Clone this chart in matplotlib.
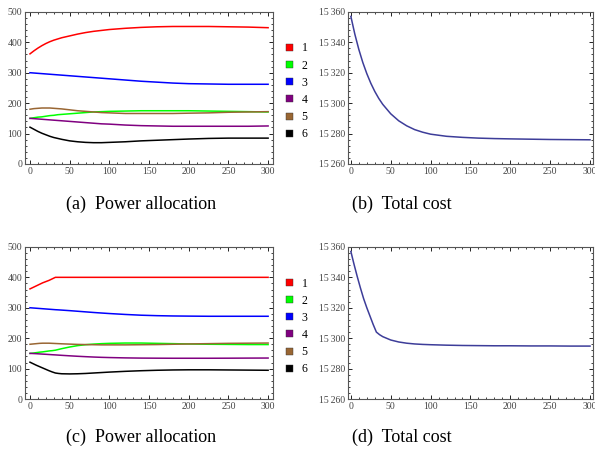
import matplotlib
matplotlib.use("Agg")
import matplotlib.pyplot as plt
from matplotlib.patches import Patch
from matplotlib.ticker import MultipleLocator, FuncFormatter

plt.rcParams['font.family'] = ['Liberation Serif', 'DejaVu Serif']

# iterations sampled for the first row
iters_a = [0, 5, 10, 15, 20, 25, 30, 35, 40, 50, 60, 70, 80, 90, 100,
           120, 140, 160, 180, 200, 225, 250, 275, 300]

# power allocation, first case (generators 1..6)
p1_a = [362, 372, 381, 389, 396, 402, 407, 411, 415, 421, 427, 432, 436, 439, 442,
        446, 449, 451, 452, 452, 452, 451, 450, 448]
p2_a = [150, 152, 154, 155, 157, 159, 160, 162, 163, 165, 167, 169, 171, 172, 173,
        174, 175, 175, 175, 175, 174, 173, 172, 171]
p3_a = [300, 299, 298, 297, 296, 295, 294, 293, 292, 290, 288, 286, 284, 282, 280,
        276, 272, 269, 266, 264, 263, 262, 262, 262]
p4_a = [150, 149, 148, 147, 146, 145, 144, 143, 142, 140, 138, 136, 134, 132, 131,
        128, 126, 125, 124, 124, 124, 124, 124, 125]
p5_a = [180, 182, 183, 184, 184, 184, 183, 182, 181, 178, 175, 173, 171, 169, 168,
        166, 166, 166, 166, 167, 168, 170, 171, 172]
p6_a = [121, 114, 107, 101, 96, 91, 87, 84, 81, 76, 73, 71, 70, 70, 71,
        73, 76, 78, 80, 82, 84, 85, 85, 85]

cost_a = [15357, 15345.3, 15335.3, 15326.7, 15319.4, 15313.1, 15307.7, 15303.1,
          15299.2, 15293.0, 15288.4, 15285.1, 15282.6, 15280.9, 15279.6,
          15278.2, 15277.5, 15277.0, 15276.7, 15276.5, 15276.3, 15276.1,
          15276.0, 15275.9]

# iterations sampled for the second row (limit hit near 32)
iters_c = [0, 4, 8, 12, 16, 20, 24, 28, 32, 36, 40, 50, 60, 70, 80, 90, 100,
           120, 140, 160, 180, 200, 225, 250, 275, 300]

p1_c = [362, 367, 372, 377, 382, 386, 390, 395, 400, 400, 400, 400, 400, 400, 400,
        400, 400, 400, 400, 400, 400, 400, 400, 400, 400, 400]
p2_c = [150, 151, 152.5, 154, 155, 156.5, 158, 159, 160.5, 163, 165.5, 171, 175.5,
        178.5, 180.5, 182, 183, 184, 184, 183, 182, 181, 180, 179.5, 179, 179]
p3_c = [300, 299.2, 298.4, 297.6, 296.8, 296, 295.2, 294.4, 293.6, 293, 292.3,
        290.5, 288.5, 286.5, 284.5, 282.7, 281, 278, 275.5, 274, 273, 272.5,
        272, 272, 272, 272]
p4_c = [150, 149.5, 149, 148.3, 147.6, 147, 146.3, 145.6, 145, 144.3, 143.6, 142,
        140.5, 139.2, 138, 137, 136.3, 135.2, 134.5, 134.2, 134, 134, 134, 134.2,
        134.5, 134.7]
p5_c = [180, 181, 182, 183, 183.5, 183.5, 183.5, 183, 182.5, 182, 181.5, 180.5,
        179.5, 179, 178.5, 178, 178, 178, 178.5, 179, 180, 181, 182, 183, 183.5, 184]
p6_c = [121, 116, 111, 106.5, 102, 97.5, 93, 89, 85.5, 84, 83, 82.5, 83, 84, 85.5,
        87, 88.5, 91, 93, 94.5, 95.5, 96, 96, 95.5, 95, 94.5]

cost_c = [15357, 15348.5, 15340.5, 15333, 15326, 15320, 15314.5, 15309, 15304,
          15302.3, 15301, 15298.8, 15297.5, 15296.7, 15296.2, 15295.9, 15295.7,
          15295.4, 15295.2, 15295.1, 15295, 15295, 15294.9, 15294.9, 15294.8,
          15294.8]

gen_labels = ['1', '2', '3', '4', '5', '6']
gen_colors = ['#ff0000', '#00ff00', '#0000ff', '#800080', '#996633', '#000000']
cost_color = '#3d3d99'
captions = ['(a)  Power allocation', '(b)  Total cost',
            '(c)  Power allocation', '(d)  Total cost']

frame_col = '#555555'
label_col = '#444444'


def style_axes(ax, xminor, ymajor, yminor):
    for s in ax.spines.values():
        s.set_color(frame_col)
        s.set_linewidth(0.8)
    ax.xaxis.set_major_locator(MultipleLocator(50))
    ax.xaxis.set_minor_locator(MultipleLocator(xminor))
    ax.yaxis.set_major_locator(MultipleLocator(ymajor))
    ax.yaxis.set_minor_locator(MultipleLocator(yminor))
    ax.tick_params(which='both', direction='in', top=True, right=True,
                   colors='#222222', labelcolor=label_col, labelsize=7, pad=2)
    ax.tick_params(which='major', length=3, width=0.7)
    ax.tick_params(which='minor', length=1.6, width=0.6)


def cost_fmt(v, pos):
    s = f"{int(round(v)):,}"
    return s.replace(',', '\u2009')


fig = plt.figure(figsize=(5.95, 4.5), dpi=100)

rows = [
    (iters_a, [p1_a, p2_a, p3_a, p4_a, p5_a, p6_a], cost_a, 0.6356),
    (iters_c, [p1_c, p2_c, p3_c, p4_c, p5_c, p6_c], cost_c, 0.1133),
]
cap_y = [1 - 204 / 450, 1 - 437 / 450]

for r, (xs, powers, cost, bottom) in enumerate(rows):
    axp = fig.add_axes([0.042, bottom, 0.417, 0.338])
    for vals, col in zip(powers, gen_colors):
        axp.plot(xs, vals, color=col, lw=1.1)
    axp.set_xlim(-6.3, 306.3)
    axp.set_ylim(0, 500)
    style_axes(axp, 10, 100, 20)

    handles = [Patch(facecolor=c, edgecolor='#333333', linewidth=0.3) for c in gen_colors]
    fig.legend(handles, gen_labels, loc='upper left',
               bbox_to_anchor=(0.481, bottom + 0.338 - 0.068),
               frameon=False, fontsize=8.5, handlelength=0.55, handleheight=0.55,
               handletextpad=0.75, labelspacing=0.44, borderpad=0, borderaxespad=0)

    axc = fig.add_axes([0.585, bottom, 0.412, 0.338])
    axc.plot(xs, cost, color=cost_color, lw=1.1)
    axc.set_xlim(-3.5, 304)
    axc.set_ylim(15260, 15360)
    style_axes(axc, 10, 20, 4)
    axc.yaxis.set_major_formatter(FuncFormatter(cost_fmt))

    fig.text(141 / 595, cap_y[r], captions[2 * r], ha='center', va='center',
             fontsize=13)
    fig.text(402 / 595, cap_y[r], captions[2 * r + 1], ha='center', va='center',
             fontsize=13)

fig.savefig('out.png', dpi=100)
